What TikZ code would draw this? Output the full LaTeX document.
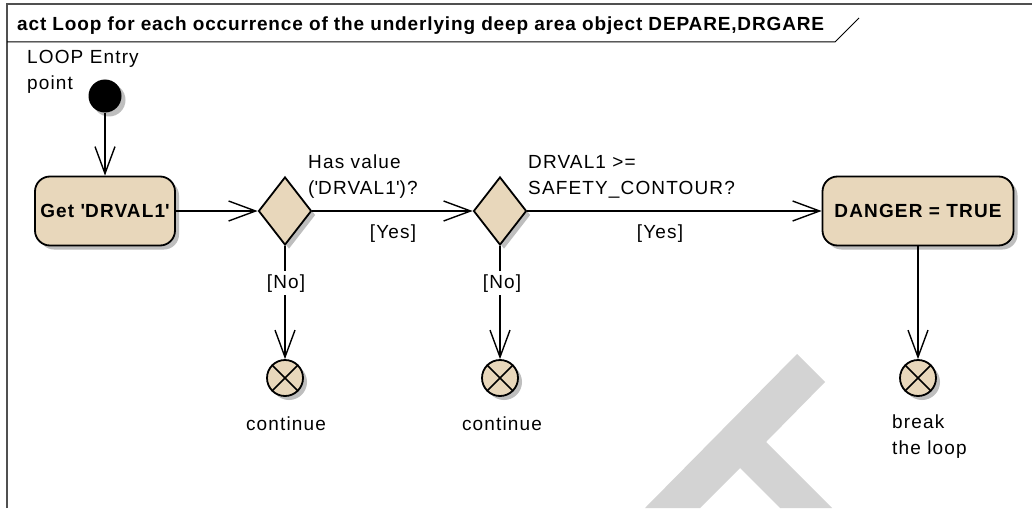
\documentclass[tikz,border=0pt]{standalone}
\usepackage{fontspec}
\setmainfont[LetterSpace=6]{Liberation Sans}
\usepackage{tikz}
\usetikzlibrary{shapes.geometric,arrows.meta,shadows}
\tikzset{>={Straight Barb[length=27pt,width=20pt]}}
\definecolor{ActFill}{HTML}{E8D7BB}
\definecolor{ShadowGray}{HTML}{BEBEBE}
\definecolor{MarkGray}{HTML}{D3D3D3}
\definecolor{FrameGray}{HTML}{505050}
\newcommand{\diagfont}{\fontsize{19}{26}\selectfont}
\newcommand{\titlefont}{\fontsize{19}{22}\selectfont\bfseries\addfontfeatures{LetterSpace=4.5}}
\newcommand{\sq}{\textquotesingle}
\tikzset{
  castshadow/.style={drop shadow={shadow xshift=4pt,shadow yshift=-4pt,fill=ShadowGray,opacity=1}},
  flow/.style={->, line width=1.4pt},
  actbox/.style={draw, line width=1.8pt, fill=ActFill, rounded corners=15pt, castshadow,
    font=\diagfont\bfseries, inner sep=0pt, minimum height=69pt},
  choice/.style={diamond, draw, line width=1.8pt, fill=ActFill, castshadow,
    minimum width=53pt, minimum height=68pt, inner sep=0pt},
  flowend/.style={circle, draw, line width=1.8pt, fill=ActFill, castshadow, minimum size=36pt, inner sep=0pt},
  initnode/.style={circle, fill=black, castshadow, minimum size=33pt, inner sep=0pt},
  txt/.style={font=\diagfont, inner sep=0pt, align=left},
  guard/.style={txt, fill=white, inner sep=3pt}
}

\begin{document}
\begin{tikzpicture}[x=1pt,y=-1pt]
  \fill[white] (0,0) rectangle (1032,508);
  \useasboundingbox (0,0) rectangle (1032,508);
  % watermark behind the diagram
  \fill[MarkGray] (645,508) -- (797,354) -- (825,382) -- (766,442) -- (832,508)
    -- (780,508) -- (740,468) -- (700,508) -- cycle;

  % frame and heading
  \draw[FrameGray, line width=1.6pt] (7,508) -- (7,4) -- (1032,4);
  \draw[line width=1pt] (7,42) -- (835,42) -- (859,18);
  \node[anchor=base west, inner sep=0pt, font=\titlefont] (title) at (17,31)
    {act Loop for each occurrence of the underlying deep area object DEPARE,DRGARE};

  % nodes
  \node[initnode] (entry) at (105,96) {};
  \node[txt, anchor=north west] (entrylab) at (27,50) {LOOP Entry\\point};
  \node[actbox, minimum width=140pt] (getval) at (105,211) {Get \sq DRVAL1\sq};
  \node[choice] (hasval) at (285,211) {};
  \node[choice] (safe) at (500,211) {};
  \node[actbox, minimum width=191pt] (danger) at (918,211) {DANGER = TRUE};
  \node[flowend] (cont1) at (285,378) {};
  \node[flowend] (cont2) at (500,378) {};
  \node[flowend] (brk) at (918,378) {};
  \foreach \f in {cont1,cont2,brk}{
    \draw[line width=1.6pt] (\f.135) -- (\f.-45) (\f.45) -- (\f.-135);
  }

  % connectors
  \draw[flow] (entry) -- (getval);
  \draw[flow] (getval) -- (hasval);
  \draw[flow] (hasval) -- (safe);
  \draw[flow] (safe) -- (danger);
  \draw[flow] (hasval) -- (cont1);
  \draw[flow] (safe) -- (cont2);
  \draw[flow] (danger) -- (brk);

  % labels
  \node[txt, anchor=north west] (hasq) at (308,155) {Has value\\(\sq DRVAL1\sq)?};
  \node[txt, anchor=north west] (safeq) at (528,155) {DRVAL1 >=\\SAFETY\_CONTOUR?};
  \node[txt, anchor=base] (yes1) at (393,238) {[Yes]};
  \node[txt, anchor=base] (yes2) at (660,238) {[Yes]};
  \node[guard, anchor=base] (no1) at (286,288) {[No]};
  \node[guard, anchor=base] (no2) at (502,288) {[No]};
  \node[txt, anchor=base] (cont1lab) at (286,430) {continue};
  \node[txt, anchor=base] (cont2lab) at (502,430) {continue};
  \node[txt, anchor=north west] (brklab) at (892,415) {break\\the loop};
\end{tikzpicture}
\end{document}
